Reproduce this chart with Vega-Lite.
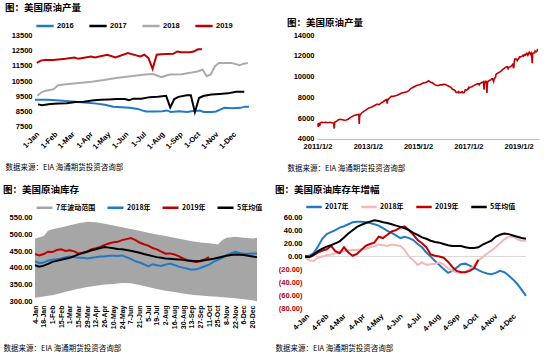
{
"$schema":"https://vega.github.io/schema/vega-lite/v6.json",
"padding":{"left":3,"top":2,"right":0,"bottom":0},
"background":"white",
"config":{
 "view":{"stroke":null},
 "axis":{"grid":false,"ticks":false,"domain":false,"labelOverlap":false,"labelBound":false,"labelFont":"Liberation Sans","labelFontSize":7.5,"labelFontWeight":"bold","labelColor":"#000","labelPadding":3,"titleFont":"Noto Sans CJK SC","titleFontSize":7.5,"titleFontWeight":"normal","titleColor":"#000"},
 "legend":{"orient":"top","direction":"horizontal","labelFont":"Noto Sans CJK SC","labelFontSize":7.5,"labelFontWeight":"bold","labelColor":"#000","symbolType":"stroke","symbolStrokeWidth":2.5,"symbolSize":300,"columnPadding":12,"padding":0,"offset":4,"labelOffset":2},
 "title":{"font":"Noto Sans CJK SC","fontSize":9.5,"fontWeight":"bold","anchor":"start","color":"#000","offset":4}
},
"datasets":{
"prod":[
{"d":"2011-01-07","yr":2011,"v":5500},{"d":"2011-01-14","yr":2011,"v":5150},{"d":"2011-01-21","yr":2011,"v":5550},{"d":"2011-02-04","yr":2011,"v":5250},{"d":"2011-02-11","yr":2011,"v":5550},{"d":"2011-03-04","yr":2011,"v":5600},{"d":"2011-04-01","yr":2011,"v":5580},{"d":"2011-05-06","yr":2011,"v":5600},{"d":"2011-06-03","yr":2011,"v":5560},{"d":"2011-07-01","yr":2011,"v":5600},{"d":"2011-07-29","yr":2011,"v":5560},{"d":"2011-08-26","yr":2011,"v":5520},{"d":"2011-09-02","yr":2011,"v":5000},{"d":"2011-09-09","yr":2011,"v":5600},{"d":"2011-10-07","yr":2011,"v":5720},{"d":"2011-11-04","yr":2011,"v":5850},{"d":"2011-12-02","yr":2011,"v":5900},{"d":"2011-12-30","yr":2011,"v":5850},
{"d":"2012-01-27","yr":2012,"v":5800},{"d":"2012-02-24","yr":2012,"v":5820},{"d":"2012-03-23","yr":2012,"v":5900},{"d":"2012-04-20","yr":2012,"v":6050},{"d":"2012-05-18","yr":2012,"v":6150},{"d":"2012-06-15","yr":2012,"v":6250},{"d":"2012-07-13","yr":2012,"v":6300},{"d":"2012-08-10","yr":2012,"v":6350},{"d":"2012-08-24","yr":2012,"v":6380},{"d":"2012-08-31","yr":2012,"v":5450},{"d":"2012-09-07","yr":2012,"v":6250},{"d":"2012-10-05","yr":2012,"v":6500},{"d":"2012-11-02","yr":2012,"v":6650},{"d":"2012-11-30","yr":2012,"v":6750},{"d":"2012-12-28","yr":2012,"v":6900},
{"d":"2013-01-25","yr":2013,"v":7000},{"d":"2013-02-22","yr":2013,"v":7050},{"d":"2013-03-22","yr":2013,"v":7150},{"d":"2013-04-19","yr":2013,"v":7250},{"d":"2013-05-17","yr":2013,"v":7350},{"d":"2013-06-14","yr":2013,"v":7300},{"d":"2013-07-12","yr":2013,"v":7450},{"d":"2013-08-09","yr":2013,"v":7550},{"d":"2013-09-06","yr":2013,"v":7700},{"d":"2013-10-04","yr":2013,"v":7800},{"d":"2013-10-11","yr":2013,"v":7400},{"d":"2013-10-18","yr":2013,"v":7750},{"d":"2013-11-15","yr":2013,"v":7950},{"d":"2013-12-13","yr":2013,"v":8100},
{"d":"2014-01-10","yr":2014,"v":8100},{"d":"2014-02-07","yr":2014,"v":8150},{"d":"2014-03-07","yr":2014,"v":8200},{"d":"2014-04-04","yr":2014,"v":8300},{"d":"2014-05-02","yr":2014,"v":8400},{"d":"2014-05-30","yr":2014,"v":8450},{"d":"2014-06-27","yr":2014,"v":8500},{"d":"2014-07-25","yr":2014,"v":8550},{"d":"2014-08-22","yr":2014,"v":8650},{"d":"2014-09-19","yr":2014,"v":8850},{"d":"2014-10-17","yr":2014,"v":8950},{"d":"2014-11-14","yr":2014,"v":9050},{"d":"2014-12-12","yr":2014,"v":9150},
{"d":"2015-01-09","yr":2015,"v":9200},{"d":"2015-02-06","yr":2015,"v":9250},{"d":"2015-03-06","yr":2015,"v":9350},{"d":"2015-04-03","yr":2015,"v":9400},{"d":"2015-05-01","yr":2015,"v":9450},{"d":"2015-05-29","yr":2015,"v":9550},{"d":"2015-06-05","yr":2015,"v":9600},{"d":"2015-07-03","yr":2015,"v":9450},{"d":"2015-07-31","yr":2015,"v":9400},{"d":"2015-08-28","yr":2015,"v":9250},{"d":"2015-09-25","yr":2015,"v":9150},{"d":"2015-10-23","yr":2015,"v":9150},{"d":"2015-11-20","yr":2015,"v":9200},{"d":"2015-12-18","yr":2015,"v":9200},
{"d":"2016-01-01","yr":2016,"v":9260},{"d":"2016-01-22","yr":2016,"v":9250},{"d":"2016-02-12","yr":2016,"v":9210},{"d":"2016-03-04","yr":2016,"v":9140},{"d":"2016-03-25","yr":2016,"v":9080},{"d":"2016-04-15","yr":2016,"v":9000},{"d":"2016-04-29","yr":2016,"v":8930},{"d":"2016-05-13","yr":2016,"v":8800},{"d":"2016-05-27","yr":2016,"v":8760},{"d":"2016-06-10","yr":2016,"v":8720},{"d":"2016-06-24","yr":2016,"v":8650},{"d":"2016-07-01","yr":2016,"v":8550},{"d":"2016-07-08","yr":2016,"v":8480},{"d":"2016-07-22","yr":2016,"v":8480},{"d":"2016-08-05","yr":2016,"v":8500},{"d":"2016-08-12","yr":2016,"v":8550},{"d":"2016-08-19","yr":2016,"v":8450},{"d":"2016-09-02","yr":2016,"v":8500},{"d":"2016-09-16","yr":2016,"v":8450},{"d":"2016-09-23","yr":2016,"v":8500},{"d":"2016-10-07","yr":2016,"v":8540},{"d":"2016-10-14","yr":2016,"v":8450},{"d":"2016-10-28","yr":2016,"v":8450},{"d":"2016-11-04","yr":2016,"v":8480},{"d":"2016-11-11","yr":2016,"v":8600},{"d":"2016-11-18","yr":2016,"v":8720},{"d":"2016-12-02","yr":2016,"v":8700},{"d":"2016-12-16","yr":2016,"v":8720},{"d":"2016-12-23","yr":2016,"v":8800},{"d":"2016-12-30","yr":2016,"v":8800},
{"d":"2017-01-06","yr":2017,"v":8950},{"d":"2017-01-13","yr":2017,"v":8900},{"d":"2017-01-27","yr":2017,"v":8980},{"d":"2017-02-10","yr":2017,"v":9000},{"d":"2017-02-24","yr":2017,"v":9030},{"d":"2017-03-10","yr":2017,"v":9100},{"d":"2017-03-24","yr":2017,"v":9130},{"d":"2017-04-07","yr":2017,"v":9200},{"d":"2017-04-21","yr":2017,"v":9250},{"d":"2017-05-05","yr":2017,"v":9280},{"d":"2017-05-19","yr":2017,"v":9300},{"d":"2017-06-02","yr":2017,"v":9310},{"d":"2017-06-09","yr":2017,"v":9220},{"d":"2017-06-16","yr":2017,"v":9330},{"d":"2017-06-30","yr":2017,"v":9330},{"d":"2017-07-14","yr":2017,"v":9430},{"d":"2017-07-28","yr":2017,"v":9450},{"d":"2017-08-11","yr":2017,"v":9520},{"d":"2017-08-18","yr":2017,"v":8750},{"d":"2017-08-25","yr":2017,"v":9300},{"d":"2017-09-01","yr":2017,"v":9450},{"d":"2017-09-15","yr":2017,"v":9560},{"d":"2017-09-22","yr":2017,"v":9550},{"d":"2017-09-29","yr":2017,"v":8430},{"d":"2017-10-06","yr":2017,"v":9370},{"d":"2017-10-13","yr":2017,"v":9500},{"d":"2017-10-27","yr":2017,"v":9600},{"d":"2017-11-10","yr":2017,"v":9640},{"d":"2017-11-24","yr":2017,"v":9680},{"d":"2017-12-08","yr":2017,"v":9780},{"d":"2017-12-22","yr":2017,"v":9780},
{"d":"2018-01-05","yr":2018,"v":9520},{"d":"2018-01-12","yr":2018,"v":9750},{"d":"2018-01-19","yr":2018,"v":9850},{"d":"2018-01-26","yr":2018,"v":9900},{"d":"2018-02-02","yr":2018,"v":9960},{"d":"2018-02-09","yr":2018,"v":10220},{"d":"2018-02-23","yr":2018,"v":10280},{"d":"2018-03-16","yr":2018,"v":10370},{"d":"2018-04-06","yr":2018,"v":10450},{"d":"2018-04-27","yr":2018,"v":10560},{"d":"2018-05-18","yr":2018,"v":10700},{"d":"2018-06-08","yr":2018,"v":10800},{"d":"2018-06-22","yr":2018,"v":10870},{"d":"2018-07-06","yr":2018,"v":10930},{"d":"2018-07-20","yr":2018,"v":10960},{"d":"2018-08-03","yr":2018,"v":10760},{"d":"2018-08-17","yr":2018,"v":10930},{"d":"2018-09-07","yr":2018,"v":10950},{"d":"2018-09-21","yr":2018,"v":11040},{"d":"2018-10-05","yr":2018,"v":11150},{"d":"2018-10-12","yr":2018,"v":11260},{"d":"2018-10-19","yr":2018,"v":10820},{"d":"2018-10-26","yr":2018,"v":10930},{"d":"2018-11-02","yr":2018,"v":11480},{"d":"2018-11-09","yr":2018,"v":11700},{"d":"2018-11-30","yr":2018,"v":11700},{"d":"2018-12-14","yr":2018,"v":11540},{"d":"2018-12-21","yr":2018,"v":11650},{"d":"2018-12-28","yr":2018,"v":11700},
{"d":"2019-01-04","yr":2019,"v":11700},{"d":"2019-01-11","yr":2019,"v":11850},{"d":"2019-01-18","yr":2019,"v":11900},{"d":"2019-02-01","yr":2019,"v":11900},{"d":"2019-02-22","yr":2019,"v":11970},{"d":"2019-03-08","yr":2019,"v":12060},{"d":"2019-03-15","yr":2019,"v":11970},{"d":"2019-04-05","yr":2019,"v":12130},{"d":"2019-04-12","yr":2019,"v":12060},{"d":"2019-05-03","yr":2019,"v":12240},{"d":"2019-05-17","yr":2019,"v":12060},{"d":"2019-06-07","yr":2019,"v":12350},{"d":"2019-06-21","yr":2019,"v":12200},{"d":"2019-06-28","yr":2019,"v":12130},{"d":"2019-07-05","yr":2019,"v":12240},{"d":"2019-07-12","yr":2019,"v":12020},{"d":"2019-07-19","yr":2019,"v":11300},{"d":"2019-07-26","yr":2019,"v":12240},{"d":"2019-08-02","yr":2019,"v":12280},{"d":"2019-08-23","yr":2019,"v":12300},{"d":"2019-08-30","yr":2019,"v":12460},{"d":"2019-09-06","yr":2019,"v":12400},{"d":"2019-09-20","yr":2019,"v":12400},{"d":"2019-09-27","yr":2019,"v":12450},{"d":"2019-10-04","yr":2019,"v":12600},{"d":"2019-10-11","yr":2019,"v":12600}
],
"band":[
{"d":"2019-01-04","lo":312,"hi":486},{"d":"2019-01-18","lo":316,"hi":494},{"d":"2019-01-25","lo":318,"hi":510},{"d":"2019-02-01","lo":320,"hi":514},{"d":"2019-02-15","lo":326,"hi":519},{"d":"2019-03-01","lo":333,"hi":526},{"d":"2019-03-15","lo":339,"hi":532},{"d":"2019-03-29","lo":344,"hi":536},{"d":"2019-04-12","lo":348,"hi":535},{"d":"2019-04-26","lo":351,"hi":530},{"d":"2019-05-10","lo":353,"hi":525},{"d":"2019-05-24","lo":356,"hi":520},{"d":"2019-06-07","lo":355,"hi":515},{"d":"2019-06-21","lo":350,"hi":510},{"d":"2019-07-05","lo":344,"hi":504},{"d":"2019-07-19","lo":338,"hi":499},{"d":"2019-08-02","lo":333,"hi":494},{"d":"2019-08-16","lo":329,"hi":489},{"d":"2019-08-30","lo":325,"hi":484},{"d":"2019-09-13","lo":321,"hi":479},{"d":"2019-09-27","lo":319,"hi":475},{"d":"2019-10-11","lo":317,"hi":473},{"d":"2019-10-25","lo":315,"hi":469},{"d":"2019-11-01","lo":314,"hi":482},{"d":"2019-11-08","lo":313,"hi":489},{"d":"2019-11-22","lo":311,"hi":492},{"d":"2019-12-06","lo":308,"hi":489},{"d":"2019-12-20","lo":305,"hi":487},{"d":"2019-12-27","lo":302,"hi":489}
],
"inv":[
{"d":"2019-01-04","2018年":420,"2019年":441,"5年均值":408},{"d":"2019-01-11","2018年":414,"2019年":437,"5年均值":404},{"d":"2019-01-18","2018年":416,"2019年":441,"5年均值":407},{"d":"2019-01-25","2018年":422,"2019年":448,"5年均值":412},{"d":"2019-02-01","2018年":424,"2019年":447,"5年均值":418},{"d":"2019-02-08","2018年":426,"2019年":453,"5年均值":421},{"d":"2019-02-15","2018年":428,"2019年":455,"5年均值":424},{"d":"2019-02-22","2018年":432,"2019年":450,"5年均值":427},{"d":"2019-03-01","2018年":434,"2019年":452,"5年均值":430},{"d":"2019-03-08","2018年":432,"2019年":449,"5年均值":435},{"d":"2019-03-15","2018年":430,"2019年":443,"5年均值":440},{"d":"2019-03-22","2018年":430,"2019年":445,"5年均值":444},{"d":"2019-03-29","2018年":428,"2019年":449,"5年均值":448},{"d":"2019-04-05","2018年":430,"2019年":455,"5年均值":452},{"d":"2019-04-12","2018年":432,"2019年":458,"5年均值":455},{"d":"2019-04-19","2018年":434,"2019年":462,"5年均值":459},{"d":"2019-04-26","2018年":434,"2019年":468,"5年均值":462},{"d":"2019-05-03","2018年":436,"2019年":472,"5年均值":460},{"d":"2019-05-10","2018年":436,"2019年":476,"5年均值":458},{"d":"2019-05-17","2018年":435,"2019年":477,"5年均值":456},{"d":"2019-05-24","2018年":437,"2019年":482,"5年均值":455},{"d":"2019-05-31","2018年":432,"2019年":485,"5年均值":453},{"d":"2019-06-07","2018年":427,"2019年":488,"5年均值":451},{"d":"2019-06-14","2018年":420,"2019年":483,"5年均值":448},{"d":"2019-06-21","2018年":416,"2019年":475,"5年均值":445},{"d":"2019-06-28","2018年":411,"2019年":470,"5年均值":441},{"d":"2019-07-05","2018年":405,"2019年":466,"5年均值":438},{"d":"2019-07-12","2018年":411,"2019年":459,"5年均值":435},{"d":"2019-07-19","2018年":408,"2019年":455,"5年均值":432},{"d":"2019-07-26","2018年":406,"2019年":448,"5年均值":430},{"d":"2019-08-02","2018年":410,"2019年":442,"5年均值":428},{"d":"2019-08-09","2018年":413,"2019年":443,"5年均值":427},{"d":"2019-08-16","2018年":409,"2019年":440,"5年均值":426},{"d":"2019-08-23","2018年":404,"2019年":435,"5年均值":425},{"d":"2019-08-30","2018年":401,"2019年":428,"5年均值":424},{"d":"2019-09-06","2018年":398,"2019年":423,"5年均值":422},{"d":"2019-09-13","2018年":395,"2019年":420,"5年均值":421},{"d":"2019-09-20","2018年":396,"2019年":418,"5年均值":420},{"d":"2019-09-27","2018年":400,"2019年":420,"5年均值":421},{"d":"2019-10-04","2018年":405,"2019年":425,"5年均值":423},{"d":"2019-10-11","2018年":410,"2019年":432,"5年均值":425},{"d":"2019-10-18","2018年":418,"5年均值":427},{"d":"2019-10-25","2018年":424,"5年均值":430},{"d":"2019-11-01","2018年":430,"5年均值":433},{"d":"2019-11-08","2018年":438,"5年均值":436},{"d":"2019-11-15","2018年":443,"5年均值":438},{"d":"2019-11-22","2018年":448,"5年均值":440},{"d":"2019-11-29","2018年":444,"5年均值":439},{"d":"2019-12-06","2018年":442,"5年均值":438},{"d":"2019-12-13","2018年":442,"5年均值":436},{"d":"2019-12-20","2018年":443,"5年均值":434},{"d":"2019-12-27","2018年":443,"5年均值":432}
],
"chg":[
{"d":"2019-01-04","2017年":0,"2018年":-2,"2019年":0,"5年均值":0},{"d":"2019-01-11","2017年":1,"2018年":-6,"2019年":-1,"5年均值":-1},{"d":"2019-01-18","2017年":5,"2018年":-7,"2019年":2,"5年均值":3},{"d":"2019-01-25","2017年":15,"2018年":-2,"2019年":6,"5年均值":8},{"d":"2019-02-01","2017年":27,"2018年":0,"2019年":9,"5年均值":12},{"d":"2019-02-08","2017年":34,"2018年":2,"2019年":11,"5年均值":15},{"d":"2019-02-15","2017年":37,"2018年":3,"2019年":16,"5年均值":17},{"d":"2019-02-22","2017年":40,"2018年":5,"2019年":8,"5年均值":20},{"d":"2019-03-01","2017年":44,"2018年":6,"2019年":5,"5年均值":23},{"d":"2019-03-08","2017年":46,"2018年":8,"2019年":14,"5年均值":29},{"d":"2019-03-15","2017年":49,"2018年":9,"2019年":6,"5年均值":35},{"d":"2019-03-22","2017年":52,"2018年":10,"2019年":1,"5年均值":40},{"d":"2019-03-29","2017年":53,"2018年":10,"2019年":4,"5年均值":45},{"d":"2019-04-05","2017年":53,"2018年":11,"2019年":10,"5年均值":48},{"d":"2019-04-12","2017年":52,"2018年":11,"2019年":16,"5年均值":51},{"d":"2019-04-19","2017年":51,"2018年":14,"2019年":19,"5年均值":53},{"d":"2019-04-26","2017年":49,"2018年":16,"2019年":21,"5年均值":55},{"d":"2019-05-03","2017年":47,"2018年":18,"2019年":30,"5年均值":54},{"d":"2019-05-10","2017年":43,"2018年":17,"2019年":28,"5年均值":52},{"d":"2019-05-17","2017年":39,"2018年":16,"2019年":33,"5年均值":51},{"d":"2019-05-24","2017年":36,"2018年":18,"2019年":38,"5年均值":49},{"d":"2019-05-31","2017年":32,"2018年":17,"2019年":40,"5年均值":47},{"d":"2019-06-07","2017年":28,"2018年":16,"2019年":44,"5年均值":45},{"d":"2019-06-14","2017年":30,"2018年":10,"2019年":46,"5年均值":43},{"d":"2019-06-21","2017年":28,"2018年":0,"2019年":40,"5年均值":40},{"d":"2019-06-28","2017年":25,"2018年":-6,"2019年":33,"5年均值":36},{"d":"2019-07-05","2017年":19,"2018年":-13,"2019年":25,"5年均值":33},{"d":"2019-07-12","2017年":14,"2018年":-9,"2019年":20,"5年均值":29},{"d":"2019-07-19","2017年":6,"2018年":-13,"2019年":14,"5年均值":27},{"d":"2019-07-26","2017年":0,"2018年":-12,"2019年":3,"5年均值":24},{"d":"2019-08-02","2017年":-7,"2018年":-11,"2019年":1,"5年均值":22},{"d":"2019-08-09","2017年":-13,"2018年":-9,"2019年":0,"5年均值":21},{"d":"2019-08-16","2017年":-19,"2018年":-12,"2019年":-2,"5年均值":19},{"d":"2019-08-23","2017年":-25,"2018年":-18,"2019年":-8,"5年均值":17},{"d":"2019-08-30","2017年":-22,"2018年":-22,"2019年":-16,"5年均值":16},{"d":"2019-09-06","2017年":-17,"2018年":-24,"2019年":-22,"5年均值":16},{"d":"2019-09-13","2017年":-12,"2018年":-25,"2019年":-24,"5年均值":16},{"d":"2019-09-20","2017年":-11,"2018年":-23,"2019年":-24,"5年均值":14},{"d":"2019-09-27","2017年":-14,"2018年":-20,"2019年":-22,"5年均值":13},{"d":"2019-10-04","2017年":-17,"2018年":-14,"2019年":-18,"5年均值":13},{"d":"2019-10-11","2017年":-21,"2018年":-6,"2019年":-5,"5年均值":14},{"d":"2019-10-18","2017年":-24,"2018年":-1,"5年均值":18},{"d":"2019-10-25","2017年":-26,"2018年":4,"5年均值":21},{"d":"2019-11-01","2017年":-27,"2018年":9,"5年均值":24},{"d":"2019-11-08","2017年":-25,"2018年":14,"5年均值":30},{"d":"2019-11-15","2017年":-22,"2018年":20,"5年均值":33},{"d":"2019-11-22","2017年":-24,"2018年":26,"5年均值":35},{"d":"2019-11-29","2017年":-29,"2018年":30,"5年均值":34},{"d":"2019-12-06","2017年":-35,"2018年":30,"5年均值":32},{"d":"2019-12-13","2017年":-42,"2018年":26,"5年均值":30},{"d":"2019-12-20","2017年":-51,"2018年":24,"5年均值":28},{"d":"2019-12-27","2017年":-60,"2018年":24,"5年均值":27}
]
},
"vconcat":[
{"hconcat":[
 {"title":"图：美国原油产量","width":214,"height":92,
  "layer":[
   {"data":{"name":"prod"},
    "transform":[{"filter":"datum.yr >= 2016"}],
    "mark":{"type":"line","strokeWidth":2},
    "encoding":{
     "x":{"field":"d","timeUnit":"monthdate","type":"temporal",
          "axis":{"format":"%-d-%b","tickCount":{"interval":"month","step":1},"labelAngle":-45,"labelOverlap":false,"labelFlush":false,"title":"数据来源：EIA    海通期货投资咨询部","titleX":-30,"titleY":40,"titleAlign":"left","titleBaseline":"middle"}},
     "y":{"field":"v","type":"quantitative","scale":{"domain":[7450,13550],"nice":false},"axis":{"values":[7500,8500,9500,10500,11500,12500,13500],"tickCount":20,"format":"d","title":null,"labelOverlap":false,"labelFlush":false}},
     "color":{"field":"yr","type":"nominal","title":null,"scale":{"domain":[2016,2017,2018,2019],"range":["#2079C7","#000000","#ABABAB","#C00000"]},"legend":{"title":null,"columnPadding":10,"labelFont":"Liberation Sans"}}
    }}
  ]},
 {"title":"图：美国原油产量","width":222,"height":104,
  "data":{"name":"prod"},
  "mark":{"type":"line","strokeWidth":1.6,"color":"#C00000"},
  "encoding":{
   "x":{"field":"d","type":"temporal","scale":{"domain":[{"year":2010,"month":12,"date":26},{"year":2019,"month":10,"date":26}]},
        "axis":{"values":[{"year":2011,"month":1,"date":2},{"year":2013,"month":1,"date":2},{"year":2015,"month":1,"date":2},{"year":2017,"month":1,"date":2},{"year":2019,"month":1,"date":2}],"tickCount":20,"format":"%Y/%-m/%-d","labelAngle":0,"labelOverlap":false,"labelFlush":false,"domain":true,"domainColor":"#BFBFBF","title":"数据来源：EIA    海通期货投资咨询部","titleX":-30,"titleY":29,"titleAlign":"left","titleBaseline":"middle"}},
   "y":{"field":"v","type":"quantitative","scale":{"domain":[3995,14005],"nice":false},"axis":{"values":[4000,6000,8000,10000,12000,14000],"tickCount":20,"format":"d","title":null,"labelOverlap":false,"labelFlush":false}}
  }}
 ],"spacing":34,"align":"each","resolve":{"scale":{"color":"independent"}}},
{"hconcat":[
 {"title":"图：美国原油库存","width":222,"height":85,
  "layer":[
   {"data":{"name":"band"},
    "mark":{"type":"area","opacity":1},
    "encoding":{
     "x":{"field":"d","type":"temporal",
          "axis":{"values":[{"year":2019,"month":1,"date":4},{"year":2019,"month":1,"date":18},{"year":2019,"month":2,"date":1},{"year":2019,"month":2,"date":15},{"year":2019,"month":3,"date":1},{"year":2019,"month":3,"date":15},{"year":2019,"month":3,"date":29},{"year":2019,"month":4,"date":12},{"year":2019,"month":4,"date":26},{"year":2019,"month":5,"date":10},{"year":2019,"month":5,"date":24},{"year":2019,"month":6,"date":7},{"year":2019,"month":6,"date":21},{"year":2019,"month":7,"date":5},{"year":2019,"month":7,"date":19},{"year":2019,"month":8,"date":2},{"year":2019,"month":8,"date":16},{"year":2019,"month":8,"date":30},{"year":2019,"month":9,"date":13},{"year":2019,"month":9,"date":27},{"year":2019,"month":10,"date":11},{"year":2019,"month":10,"date":25},{"year":2019,"month":11,"date":8},{"year":2019,"month":11,"date":22},{"year":2019,"month":12,"date":6},{"year":2019,"month":12,"date":20}],
                  "tickCount":60,"format":"%-d-%b","labelAngle":-90,"labelFontSize":7,"labelOverlap":false,"labelBound":false,"labelFlush":false,"title":"数据来源：EIA    海通期货投资咨询部","titleX":-32,"titleY":46,"titleAlign":"left","titleBaseline":"middle"}},
     "y":{"field":"hi","type":"quantitative","scale":{"domain":[299.8,550.2],"nice":false},"axis":{"values":[300,350,400,450,500,550],"tickCount":20,"format":".2f","title":null,"labelOverlap":false,"labelBound":false,"labelFlush":false}},
     "y2":{"field":"lo"},
     "color":{"datum":"7年波动范围","type":"nominal","title":null,"scale":{"domain":["7年波动范围","2018年","2019年","5年均值"],"range":["#A6A6A6","#2079C7","#C00000","#000000"]},
              "legend":{"title":null,"columnPadding":6,"labelFontSize":7,"symbolSize":256,"labelOffset":2,"encode":{"symbols":{"update":{"shape":{"signal":"datum.value === '7年波动范围' ? 'M-1,-0.45H1V0.45H-1Z' : 'M-1,0H1'"},"fill":{"signal":"datum.value === '7年波动范围' ? '#A6A6A6' : 'transparent'"},"strokeWidth":{"signal":"datum.value === '7年波动范围' ? 0 : 2.5"}}}}}}
    }},
   {"data":{"name":"inv"},
    "transform":[{"fold":["2018年","2019年","5年均值"],"as":["s","v"]}],
    "mark":{"type":"line","strokeWidth":2},
    "encoding":{
     "x":{"field":"d","type":"temporal"},
     "y":{"field":"v","type":"quantitative"},
     "color":{"field":"s","type":"nominal","title":null}
    }}
  ]},
 {"title":"图：美国原油库存年增幅","width":221,"height":92,
  "layer":[
   {"data":{"values":[{}]},
    "mark":{"type":"rule","color":"#D9D9D9","strokeWidth":1},
    "encoding":{"y":{"datum":0,"type":"quantitative"}}},
   {"data":{"name":"chg"},
    "transform":[{"fold":["2017年","2018年","2019年","5年均值"],"as":["s","v"]}],
    "mark":{"type":"line","strokeWidth":2},
    "encoding":{
     "x":{"field":"d","type":"temporal",
          "axis":{"values":[{"year":2019,"month":1,"date":4},{"year":2019,"month":2,"date":4},{"year":2019,"month":3,"date":4},{"year":2019,"month":4,"date":4},{"year":2019,"month":5,"date":4},{"year":2019,"month":6,"date":4},{"year":2019,"month":7,"date":4},{"year":2019,"month":8,"date":4},{"year":2019,"month":9,"date":4},{"year":2019,"month":10,"date":4},{"year":2019,"month":11,"date":4},{"year":2019,"month":12,"date":4}],
                  "tickCount":30,"format":"%-d-%b","labelAngle":-45,"labelOverlap":false,"labelBound":false,"labelFlush":false,"title":"数据来源：EIA    海通期货投资咨询部","titleX":-30,"titleY":39,"titleAlign":"left","titleBaseline":"middle"}},
     "y":{"field":"v","type":"quantitative","scale":{"domain":[-80.1,60.1],"nice":false},
          "axis":{"values":[-80,-60,-40,-20,0,20,40,60],"tickCount":20,"title":null,"labelOverlap":false,"labelBound":false,"labelFlush":false,"labelExpr":"datum.value < 0 ? '(' + format(-datum.value, '.2f') + ')' : format(datum.value, '.2f')","labelColor":{"condition":{"test":"datum.value < 0","value":"#C00000"},"value":"#000000"}}},
     "color":{"field":"s","type":"nominal","title":null,"scale":{"domain":["2017年","2018年","2019年","5年均值"],"range":["#2079C7","#F4B6B6","#C00000","#000000"]},"legend":{"title":null,"columnPadding":7,"labelFontSize":7,"symbolSize":240}}
    }}
  ]}
 ],"spacing":12,"align":"each","resolve":{"scale":{"color":"independent"}}}
],
"spacing":12,
"resolve":{"scale":{"color":"independent"}}
}
